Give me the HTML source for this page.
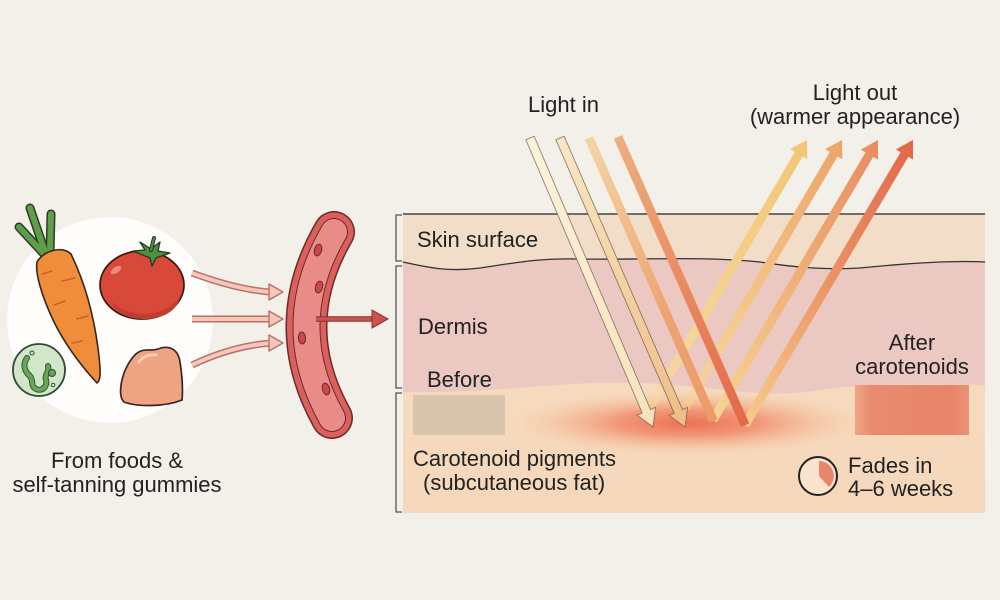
<!DOCTYPE html>
<html><head><meta charset="utf-8"><style>
html,body{margin:0;padding:0;background:#f3efe9;}
svg{display:block;}
text{font-family:"Liberation Sans",Arial,sans-serif;fill:#222;font-size:22px;}
</style></head><body>
<svg width="1000" height="600" viewBox="0 0 1000 600" xmlns="http://www.w3.org/2000/svg">
<defs>
 <radialGradient id="glow" cx="0.5" cy="0.5" r="0.5">
  <stop offset="0" stop-color="#ec6448" stop-opacity="0.9"/>
  <stop offset="0.4" stop-color="#ef7a58" stop-opacity="0.7"/>
  <stop offset="0.75" stop-color="#f3a07a" stop-opacity="0.3"/>
  <stop offset="1" stop-color="#f6b58f" stop-opacity="0"/>
 </radialGradient>
 <linearGradient id="fat" x1="0" y1="0" x2="0" y2="1">
  <stop offset="0" stop-color="#fae4c8"/>
  <stop offset="0.25" stop-color="#f7dcbf"/>
  <stop offset="1" stop-color="#f5d8bb"/>
 </linearGradient>
 <linearGradient id="after" x1="0" y1="0" x2="1" y2="0">
  <stop offset="0" stop-color="#f0a585"/>
  <stop offset="0.15" stop-color="#e98a6e"/>
  <stop offset="0.85" stop-color="#e8846a"/>
  <stop offset="1" stop-color="#ec9477"/>
 </linearGradient>
 <linearGradient id="in1" x1="0" y1="0" x2="1" y2="0">
  <stop offset="0" stop-color="#fbf3dc"/><stop offset="1" stop-color="#f8e2bd"/></linearGradient>
 <linearGradient id="in2" x1="0" y1="0" x2="1" y2="0">
  <stop offset="0" stop-color="#f8e8c4"/><stop offset="1" stop-color="#efbd86"/></linearGradient>
 <linearGradient id="in3" x1="0" y1="0" x2="1" y2="0">
  <stop offset="0" stop-color="#f3d5a6"/><stop offset="0.6" stop-color="#eda572"/><stop offset="1" stop-color="#ec9a68"/></linearGradient>
 <linearGradient id="in4" x1="0" y1="0" x2="1" y2="0">
  <stop offset="0" stop-color="#edb07e"/><stop offset="0.6" stop-color="#e8845c"/><stop offset="1" stop-color="#e2694a"/></linearGradient>
 <linearGradient id="o1" x1="0" y1="0" x2="1" y2="0">
  <stop offset="0" stop-color="#f8dca0" stop-opacity="0.3"/><stop offset="0.3" stop-color="#f6d596"/><stop offset="1" stop-color="#f1c676"/></linearGradient>
 <linearGradient id="o2" x1="0" y1="0" x2="1" y2="0">
  <stop offset="0" stop-color="#f8d89a" stop-opacity="0.3"/><stop offset="0.3" stop-color="#f4cc8e"/><stop offset="1" stop-color="#eda468"/></linearGradient>
 <linearGradient id="o3" x1="0" y1="0" x2="1" y2="0">
  <stop offset="0" stop-color="#f7d594"/><stop offset="0.5" stop-color="#efb077"/><stop offset="1" stop-color="#e98b5f"/></linearGradient>
 <linearGradient id="o4" x1="0" y1="0" x2="1" y2="0">
  <stop offset="0" stop-color="#f6cc8a"/><stop offset="0.5" stop-color="#ea9466"/><stop offset="1" stop-color="#e2674a"/></linearGradient>
</defs>

<rect width="1000" height="600" fill="#f3efe9"/>

<!-- left white circle -->
<circle cx="110" cy="320" r="103" fill="#fefdfb"/>

<!-- carrot leaves -->
<g stroke-linecap="round" fill="none">
 <path d="M44,254 L19,227" stroke="#2e3a26" stroke-width="9"/>
 <path d="M45,252 L30,208" stroke="#2e3a26" stroke-width="9"/>
 <path d="M50,252 L51,214" stroke="#2e3a26" stroke-width="9"/>
 <path d="M44,254 L19,227" stroke="#5e9e4b" stroke-width="6"/>
 <path d="M45,252 L30,208" stroke="#5e9e4b" stroke-width="6"/>
 <path d="M50,252 L51,214" stroke="#5e9e4b" stroke-width="6"/>
</g>
<!-- carrot -->
<path d="M37,262 C35,272 41,295 54,322 C67,348 85,370 97,383 C102,380 100,365 98,348 C94,318 86,285 71,254 C62,245 43,251 37,262 Z" fill="#ef8d3b" stroke="#3a2718" stroke-width="1.6"/>
<g stroke="#c9622a" stroke-width="1.6" stroke-linecap="round">
 <line x1="42" y1="274" x2="52" y2="271"/><line x1="62" y1="281" x2="75" y2="278"/>
 <line x1="54" y1="305" x2="65" y2="301"/><line x1="77" y1="319" x2="88" y2="316"/>
 <line x1="72" y1="343" x2="82" y2="341"/>
</g>

<!-- tomato -->
<ellipse cx="142" cy="285" rx="42" ry="34" fill="#d94939" stroke="#3a1a15" stroke-width="1.7"/>
<path d="M110,300 C125,318 165,320 180,296 C178,312 160,320 142,319 C125,319 114,310 110,300 Z" fill="#c43c2e"/>
<ellipse cx="116" cy="270" rx="6" ry="3" transform="rotate(-35 116 270)" fill="#ef8a78"/>
<path d="M150,258 L133,251 L145,250 L140,242 L151,249 L160,242 L158,251 L170,253 L156,258 L152,266 Z" fill="#4f9040" stroke="#24371e" stroke-width="1.3" stroke-linejoin="round"/>
<path d="M151,250 L154,238" stroke="#24371e" stroke-width="4" stroke-linecap="round"/>
<path d="M151,250 L154,238" stroke="#4f9040" stroke-width="2" stroke-linecap="round"/>

<!-- green circle -->
<circle cx="39" cy="370" r="26" fill="#d2e6ca" stroke="#2f4a32" stroke-width="1.8"/>
<path d="M27,358 C22,365 25,372 30,376 C34,381 30,386 36,389 C42,392 48,386 46,380 C44,374 50,372 48,366" fill="none" stroke="#2f5a32" stroke-width="6" stroke-linecap="round"/>
<path d="M27,358 C22,365 25,372 30,376 C34,381 30,386 36,389 C42,392 48,386 46,380 C44,374 50,372 48,366" fill="none" stroke="#6aa55a" stroke-width="4" stroke-linecap="round"/>
<circle cx="32" cy="353" r="2" fill="none" stroke="#2f4a32" stroke-width="1"/>
<circle cx="52" cy="373" r="3.5" fill="#6aa55a" stroke="#2f4a32" stroke-width="1"/>
<circle cx="53" cy="385" r="1.8" fill="none" stroke="#2f4a32" stroke-width="1"/>

<!-- gummy -->
<path d="M124,402 C117,396 121,372 133,357 C142,346 150,352 158,349 C168,345 178,348 180,362 C182,375 183,390 182,400 C165,407 138,407 124,402 Z" fill="#eea383" stroke="#3a2520" stroke-width="1.7"/>
<path d="M139,362 C143,356 150,354 156,355" stroke="#f7cdb8" stroke-width="3" fill="none" stroke-linecap="round"/>

<!-- pink arrows -->
<g fill="none">
 <path d="M192,273 Q238,290 271,292" stroke="#b8716a" stroke-width="7"/>
 <path d="M192,273 Q238,290 271,292" stroke="#f4c7b8" stroke-width="4"/>
 <path d="M192,319 L271,319" stroke="#b8716a" stroke-width="7"/>
 <path d="M192,319 L271,319" stroke="#f4c7b8" stroke-width="4"/>
 <path d="M192,365 Q232,346 271,343" stroke="#b8716a" stroke-width="7"/>
 <path d="M192,365 Q232,346 271,343" stroke="#f4c7b8" stroke-width="4"/>
</g>
<g fill="#f4c7b8" stroke="#b8716a" stroke-width="1.4" stroke-linejoin="round">
 <polygon points="269,284 283,292 269,300"/>
 <polygon points="269,311 283,319 269,327"/>
 <polygon points="269,335 283,343 269,351"/>
</g>

<!-- blood vessel -->
<g fill="none" stroke-linecap="round">
 <path d="M334,232 Q280,325 332,418" stroke="#6e2a2a" stroke-width="42"/>
 <path d="M334,232 Q280,325 332,418" stroke="#d9605c" stroke-width="39"/>
 <path d="M334,232 Q280,325 332,418" stroke="#6e2a2a" stroke-width="28"/>
 <path d="M334,232 Q280,325 332,418" stroke="#e98c88" stroke-width="26"/>
</g>
<g fill="#c9494a" stroke="#6e2a2a" stroke-width="1">
 <ellipse cx="318" cy="250" rx="3.6" ry="6" transform="rotate(15 318 250)"/>
 <ellipse cx="319" cy="287" rx="3.6" ry="6" transform="rotate(15 319 287)"/>
 <ellipse cx="302" cy="338" rx="3.6" ry="6" transform="rotate(-5 302 338)"/>
 <ellipse cx="326" cy="389" rx="3.6" ry="6" transform="rotate(-15 326 389)"/>
</g>
<!-- red arrow -->
<line x1="316" y1="319" x2="375" y2="319" stroke="#8a3030" stroke-width="5.5"/>
<line x1="316" y1="319" x2="375" y2="319" stroke="#cc524b" stroke-width="3.5"/>
<polygon points="372,310 388,319 372,328" fill="#cc524b" stroke="#8a3030" stroke-width="1"/>

<!-- food label -->
<text x="117" y="468" text-anchor="middle">From foods &amp;</text>
<text x="117" y="492" text-anchor="middle">self-tanning gummies</text>

<!-- skin panel -->
<rect x="403" y="214" width="582" height="299" fill="url(#fat)"/>
<path d="M403,214 L985,214 L985,385 C900,383 850,385 820,390 C760,400 720,386 640,383 C560,380 500,394 403,392 Z" fill="#ebc8c1"/>
<path d="M403,214 L985,214 L985,262 C950,260 900,264 860,268 C830,270 800,268 760,262 C700,256 640,260 580,259 C540,258 520,262 480,268 C450,272 430,268 403,262 Z" fill="#f2ddc9"/>
<path d="M403,262 C430,268 450,272 480,268 C520,262 540,258 580,259 C640,260 700,256 760,262 C800,268 830,270 860,268 C900,264 950,260 985,262" fill="none" stroke="#333" stroke-width="1.3"/>
<line x1="403" y1="214" x2="985" y2="214" stroke="#444" stroke-width="1.5"/>

<!-- brackets -->
<g fill="none" stroke="#555" stroke-width="1.3">
 <path d="M402,215 L396,215 L396,261 L402,261"/>
 <path d="M402,266 L396,266 L396,388 L402,388"/>
 <path d="M402,393 L396,393 L396,512 L402,512"/>
</g>

<!-- before / after boxes -->
<rect x="413" y="395" width="92" height="40" fill="#d9c4ae"/>
<rect x="855" y="385" width="114" height="50" fill="url(#after)"/>

<!-- glow -->
<ellipse cx="688" cy="423" rx="175" ry="32" fill="url(#glow)"/>

<!-- out beams -->
<g transform="translate(643,420) rotate(-59.64)"><path d="M0,-4.5 L308,-4.5 L308,-10 L324.5,0 L308,10 L308,4.5 L0,4.5 Z" fill="url(#o1)"/></g>
<g transform="translate(678,420) rotate(-59.64)"><path d="M0,-4.5 L308,-4.5 L308,-10 L324.5,0 L308,10 L308,4.5 L0,4.5 Z" fill="url(#o2)"/></g>
<g transform="translate(713,420) rotate(-59.49)"><path d="M0,-4.5 L308,-4.5 L308,-10 L325,0 L308,10 L308,4.5 L0,4.5 Z" fill="url(#o3)"/></g>
<g transform="translate(745,425) rotate(-59.48)"><path d="M0,-4.5 L314,-4.5 L314,-10 L330.8,0 L314,10 L314,4.5 L0,4.5 Z" fill="url(#o4)"/></g>

<!-- in beams -->
<g transform="translate(530,138) rotate(66.94)"><path d="M0,-4.5 L297,-4.5 L297,-10 L314,0 L297,10 L297,4.5 L0,4.5 Z" fill="url(#in1)" stroke="#6b5040" stroke-width="0.9" stroke-opacity="0.7"/></g>
<g transform="translate(560,138) rotate(66.6)"><path d="M0,-4.5 L298,-4.5 L298,-10 L315,0 L298,10 L298,4.5 L0,4.5 Z" fill="url(#in2)" stroke="#6b5040" stroke-width="0.9" stroke-opacity="0.7"/></g>
<g transform="translate(589,138) rotate(66.27)"><rect x="0" y="-4.5" width="309" height="9" fill="url(#in3)"/></g>
<g transform="translate(618,137) rotate(66.2)"><rect x="0" y="-4.5" width="315" height="9" fill="url(#in4)"/></g>

<!-- clock icon -->
<circle cx="818" cy="476" r="19" fill="#fbe4cd" stroke="#222" stroke-width="2"/>
<path d="M819,476 L819,461 A15,15 0 0 1 829,487 Z" fill="#e8866a"/>

<!-- panel labels -->
<text x="417" y="247">Skin surface</text>
<text x="418" y="334">Dermis</text>
<text x="427" y="387">Before</text>
<text x="912" y="350" text-anchor="middle">After</text>
<text x="912" y="374" text-anchor="middle">carotenoids</text>
<text x="413" y="466">Carotenoid pigments</text>
<text x="423" y="490">(subcutaneous fat)</text>
<text x="848" y="473">Fades in</text>
<text x="848" y="496">4–6 weeks</text>

<!-- light labels -->
<text x="528" y="112">Light in</text>
<text x="855" y="100" text-anchor="middle">Light out</text>
<text x="855" y="124" text-anchor="middle">(warmer appearance)</text>
</svg>
</body></html>
